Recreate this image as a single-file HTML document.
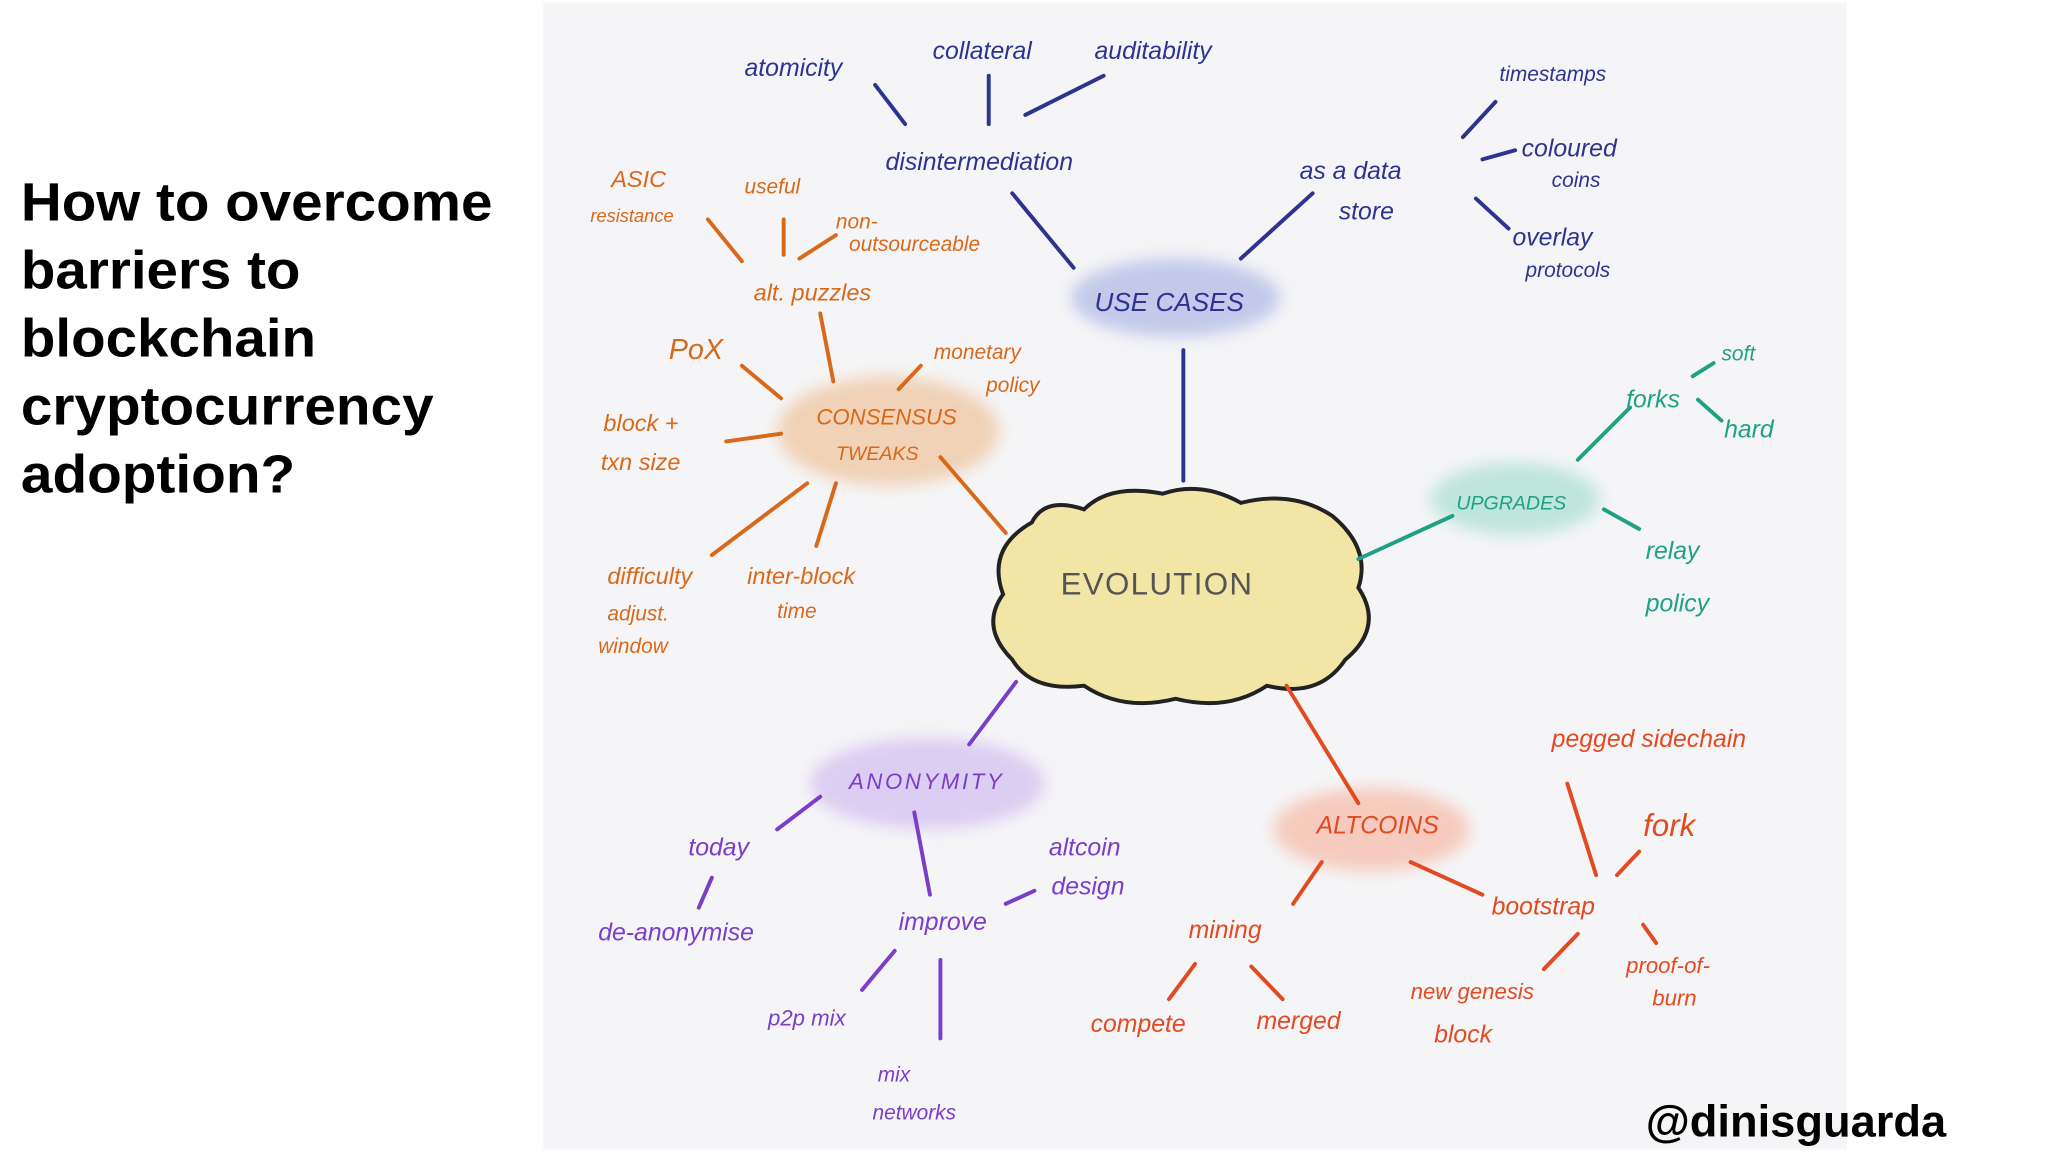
<!DOCTYPE html>
<html><head><meta charset="utf-8"><style>
html,body{margin:0;padding:0;background:#fff;width:2048px;height:1152px;overflow:hidden}
svg{display:block}
text{font-family:"Liberation Sans",sans-serif}
</style></head><body>
<svg width="2048" height="1152" viewBox="0 0 1568 882" preserveAspectRatio="none">
<defs><filter id="b" x="-30%" y="-30%" width="160%" height="160%"><feGaussianBlur stdDeviation="6"/></filter></defs>
<rect x="0" y="0" width="1568" height="882" fill="#fff"/>
<rect x="416" y="2" width="998" height="878" fill="#f5f5f7"/>
<g font-weight="bold" font-size="41" fill="#000">
<text x="16" y="169" textLength="361" lengthAdjust="spacingAndGlyphs">How to overcome</text>
<text x="16" y="221" textLength="214" lengthAdjust="spacingAndGlyphs">barriers to</text>
<text x="16" y="273" textLength="226" lengthAdjust="spacingAndGlyphs">blockchain</text>
<text x="16" y="325" textLength="316" lengthAdjust="spacingAndGlyphs">cryptocurrency</text>
<text x="16" y="377" textLength="210" lengthAdjust="spacingAndGlyphs">adoption?</text>
<text x="1260" y="870" font-size="34" textLength="230" lengthAdjust="spacingAndGlyphs">@dinisguarda</text>
</g>
<g filter="url(#b)">
<ellipse cx="900" cy="228" rx="80" ry="30" fill="#c3c9ea"/>
<ellipse cx="680" cy="330" rx="85" ry="42" fill="#f1d2b6"/>
<ellipse cx="1160" cy="382" rx="65" ry="28" fill="#bfe6dc"/>
<ellipse cx="710" cy="600" rx="90" ry="35" fill="#dccdf2"/>
<ellipse cx="1050" cy="635" rx="75" ry="32" fill="#f6cbbd"/>
</g>
<path d="M790 400 Q800 380 830 390 Q850 370 890 378 Q920 368 950 385 Q990 375 1020 395 Q1050 420 1040 450 Q1060 480 1030 505 Q1010 535 970 525 Q940 545 900 535 Q860 545 830 525 Q790 530 775 505 Q750 480 768 455 Q755 420 790 400 Z" fill="#f1e6a6" stroke="#222" stroke-width="3"/>
<text x="812" y="455" font-size="24" fill="#555" letter-spacing="1">EVOLUTION</text>
<g stroke-width="3" fill="none" stroke-linecap="round">
<g stroke="#2d3490">
<line x1="906" y1="368" x2="906" y2="268"/><line x1="822" y1="205" x2="775" y2="148"/><line x1="950" y1="198" x2="1005" y2="148"/>
<line x1="693" y1="95" x2="670" y2="65"/><line x1="757" y1="95" x2="757" y2="58"/><line x1="785" y1="88" x2="845" y2="58"/>
<line x1="1120" y1="105" x2="1145" y2="78"/><line x1="1135" y1="122" x2="1160" y2="115"/><line x1="1130" y1="152" x2="1155" y2="175"/>
</g>
<g stroke="#d9691a">
<line x1="770" y1="408" x2="720" y2="350"/><line x1="638" y1="292" x2="628" y2="240"/><line x1="598" y1="305" x2="568" y2="280"/>
<line x1="688" y1="298" x2="705" y2="280"/><line x1="598" y1="332" x2="556" y2="338"/><line x1="618" y1="370" x2="545" y2="425"/>
<line x1="640" y1="370" x2="625" y2="418"/><line x1="568" y1="200" x2="542" y2="168"/><line x1="600" y1="195" x2="600" y2="168"/><line x1="612" y1="198" x2="640" y2="180"/>
</g>
<g stroke="#1fa184">
<line x1="1040" y1="428" x2="1112" y2="395"/><line x1="1208" y1="352" x2="1248" y2="312"/><line x1="1228" y1="390" x2="1255" y2="405"/>
<line x1="1296" y1="288" x2="1312" y2="278"/><line x1="1300" y1="306" x2="1318" y2="322"/>
</g>
<g stroke="#7a3ec8">
<line x1="778" y1="522" x2="742" y2="570"/><line x1="628" y1="610" x2="595" y2="635"/><line x1="700" y1="622" x2="712" y2="685"/>
<line x1="545" y1="672" x2="535" y2="695"/><line x1="770" y1="692" x2="792" y2="682"/><line x1="685" y1="728" x2="660" y2="758"/><line x1="720" y1="735" x2="720" y2="795"/>
</g>
<g stroke="#e24a22">
<line x1="985" y1="525" x2="1040" y2="615"/><line x1="1012" y1="660" x2="990" y2="692"/><line x1="1080" y1="660" x2="1135" y2="685"/>
<line x1="915" y1="738" x2="895" y2="765"/><line x1="958" y1="740" x2="982" y2="765"/><line x1="1208" y1="715" x2="1182" y2="742"/>
<line x1="1258" y1="708" x2="1268" y2="722"/><line x1="1200" y1="600" x2="1222" y2="670"/><line x1="1238" y1="670" x2="1255" y2="652"/>
</g>
</g>
<g font-size="19" fill="#2d3490" font-style="italic">
<text x="570" y="58">atomicity</text><text x="714" y="45">collateral</text><text x="838" y="45">auditability</text>
<text x="678" y="130">disintermediation</text><text x="995" y="137">as a data</text><text x="1025" y="168">store</text>
<text x="1148" y="62" font-size="16">timestamps</text><text x="1165" y="120">coloured</text><text x="1188" y="143" font-size="16">coins</text>
<text x="1158" y="188">overlay</text><text x="1168" y="212" font-size="16">protocols</text>
<text x="838" y="238" font-size="20">USE CASES</text>
</g>
<g font-size="18" fill="#d9691a" font-style="italic">
<text x="468" y="143">ASIC</text><text x="452" y="170" font-size="14">resistance</text><text x="570" y="148" font-size="16">useful</text>
<text x="640" y="175" font-size="16">non-</text><text x="650" y="192" font-size="16">outsourceable</text><text x="577" y="230">alt. puzzles</text>
<text x="512" y="275" font-size="22">PoX</text><text x="715" y="275" font-size="16">monetary</text><text x="755" y="300" font-size="16">policy</text>
<text x="462" y="330">block +</text><text x="460" y="360">txn size</text>
<text x="625" y="325" font-size="17">CONSENSUS</text><text x="640" y="352" font-size="15">TWEAKS</text>
<text x="465" y="447">difficulty</text><text x="465" y="475" font-size="16">adjust.</text><text x="458" y="500" font-size="16">window</text>
<text x="572" y="447">inter-block</text><text x="595" y="473" font-size="16">time</text>
</g>
<g font-size="19" fill="#1fa184" font-style="italic">
<text x="1245" y="312">forks</text><text x="1318" y="276" font-size="16">soft</text><text x="1320" y="335">hard</text>
<text x="1115" y="390" font-size="15">UPGRADES</text><text x="1260" y="428">relay</text><text x="1260" y="468">policy</text>
</g>
<g font-size="19" fill="#7a3ec8" font-style="italic">
<text x="650" y="604" font-size="17" letter-spacing="2">ANONYMITY</text>
<text x="527" y="655">today</text><text x="458" y="720">de-anonymise</text><text x="688" y="712">improve</text>
<text x="803" y="655">altcoin</text><text x="805" y="685">design</text><text x="588" y="785" font-size="17">p2p mix</text>
<text x="672" y="828" font-size="16">mix</text><text x="668" y="857" font-size="16">networks</text>
</g>
<g font-size="19" fill="#e24a22" font-style="italic">
<text x="1008" y="638">ALTCOINS</text><text x="1188" y="572">pegged sidechain</text><text x="1258" y="640" font-size="24">fork</text>
<text x="1142" y="700">bootstrap</text><text x="910" y="718">mining</text><text x="835" y="790">compete</text><text x="962" y="788">merged</text>
<text x="1080" y="765" font-size="17">new genesis</text><text x="1098" y="798">block</text><text x="1245" y="745" font-size="17">proof-of-</text><text x="1265" y="770" font-size="17">burn</text>
</g>
</svg>
</body></html>
